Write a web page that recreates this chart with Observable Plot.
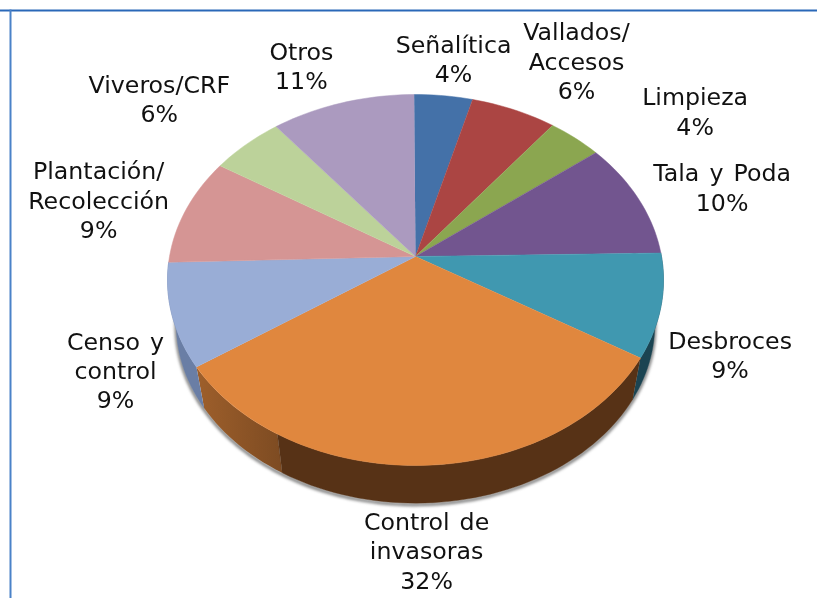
<!DOCTYPE html>
<html><head><meta charset="utf-8">
<script src="https://cdn.jsdelivr.net/npm/d3@7"></script>
<script src="https://cdn.jsdelivr.net/npm/@observablehq/plot@0.6"></script>
<style>
html,body{margin:0;padding:0;background:#fff}
svg{display:block}
.pie-shadow{filter:blur(1.6px)}
.soft{filter:blur(.35px)}
.lab{filter:blur(.3px);word-spacing:2.5px}
</style></head><body><div id="chart"></div>
<script>
// Data
const categories = ["Señalítica","Vallados/\nAccesos","Limpieza","Tala y Poda","Desbroces","Control de\ninvasoras","Censo y\ncontrol","Plantación/\nRecolección","Viveros/CRF","Otros"];
const percentLabels = ["4%","6%","4%","10%","9%","32%","9%","9%","6%","11%"];
const shares = [4.3,6.3,4.0,10.2,9.0,31.8,9.0,9.4,5.4,10.6];
const topColors = ["#4471a8","#ab4543","#8ba650","#72558f","#4098b0","#e0873e","#99add6","#d59594","#bcd29a","#ab9abf"];
const frontWallColors = {desbroces: "#1b4452", controlDark: "#573216", censo: "#6a7ea5"};
const startShare = -0.1;
const orangeWallBreak = 58.33;   // share position where the wall shading changes
const labelOffsets = [[10,-37.5],[62.5,-49.5],[120,-27.5],[84,-11.5],[69,48.5],[4,84.5],[-56.5,54.5],[-87,-11],[-87,-46.5],[-41,-37.5]];

// Perspective view of the disc
const W = 817, H = 598, cx = 415, cy = 256, R = 246, S = 182.5, k = 0.1267;
const bottomScale = 0.965, bottomDrop = 45;
function rim(pct, lower){
  const t = pct / 100 * 2 * Math.PI, u = Math.sin(t), v = Math.cos(t), d = 1 + k * v;
  const X = R * u / d, Y = -S * v / d;
  return lower ? [cx + X * bottomScale, cy + Y * bottomScale + bottomDrop] : [cx + X, cy + Y];
}
function arc(a, b, lower){
  const n = Math.max(2, Math.ceil((b - a) * 2)), pts = [];
  for (let i = 0; i <= n; i++) pts.push(rim(a + (b - a) * i / n, lower));
  return pts;
}
let run = startShare;
const slices = shares.map((s, i) => { const a = run; run += s; return {i, a, b: run, mid: a + s / 2}; });

const topPts = slices.flatMap(s => [[cx, cy], ...arc(s.a, s.b, false)].map(([x, y]) => ({x, y, z: s.i, color: topColors[s.i]})));
const wallPieces = [];
function addWall(a, b, color, z){
  [...arc(a, b, false), ...arc(a, b, true).reverse()].forEach(([x, y]) => wallPieces.push({x, y, z, color}));
}
// only the slices that face the viewer show a wall
addWall(slices[4].a, slices[4].b, frontWallColors.desbroces, "des");
addWall(slices[5].a, orangeWallBreak, frontWallColors.controlDark, "ctrlDark");
addWall(slices[6].a, slices[6].b, frontWallColors.censo, "cen");
const gradientWall = [...arc(orangeWallBreak, slices[5].b, false), ...arc(orangeWallBreak, slices[5].b, true).reverse()].map(([x, y]) => ({x, y}));
const shadowLine = arc(slices[4].a - 6, slices[6].b + 2, true).map(([x, y]) => ({x, y: y + 1.5}));

const labels = slices.map(s => {
  const [x, y] = rim(s.mid, false);
  return {x: x + labelOffsets[s.i][0], y: y + labelOffsets[s.i][1], text: categories[s.i] + "\n" + percentLabels[s.i]};
});

const defs = () => {
  const ns = "http://www.w3.org/2000/svg";
  const d = document.createElementNS(ns, "defs");
  d.innerHTML = '<linearGradient id="wallGrad" x1="0" x2="1" y1="0" y2="0"><stop offset="0" stop-color="#9e5f2b"/><stop offset="1" stop-color="#7d4b22"/></linearGradient>';
  return d;
};

const chart = Plot.plot({
  width: W, height: H, margin: 0,
  x: {domain: [0, W], range: [0, W], axis: null},
  y: {domain: [0, H], range: [0, H], axis: null},
  color: {type: "identity"},
  style: {background: "#fff", color: "#111", overflow: "hidden"},
  marks: [
    defs,
    Plot.frame({anchor: "top", stroke: "#2a68b8", strokeWidth: 2, insetTop: 10}),
    Plot.frame({anchor: "left", stroke: "#4a82c8", strokeWidth: 2, insetLeft: 10, insetTop: 10}),
    Plot.line(shadowLine, {x: "x", y: "y", stroke: "#777", strokeWidth: 3, className: "pie-shadow"}),
    Plot.line(gradientWall, {x: "x", y: "y", fill: "url(#wallGrad)", stroke: "none", className: "soft"}),
    Plot.line(wallPieces, {x: "x", y: "y", z: "z", fill: "color", stroke: "color", strokeWidth: .4, className: "soft"}),
    Plot.line(topPts, {x: "x", y: "y", z: "z", fill: "color", stroke: "color", strokeWidth: .5, className: "soft"}),
    Plot.text(labels, {x: "x", y: "y", text: "text", fontSize: 23.7, lineHeight: 1.24, fill: "#111", fontFamily: "'DejaVu Sans'", textAnchor: "middle", className: "lab"})
  ]
});
document.getElementById("chart").append(chart);
</script></body></html>
